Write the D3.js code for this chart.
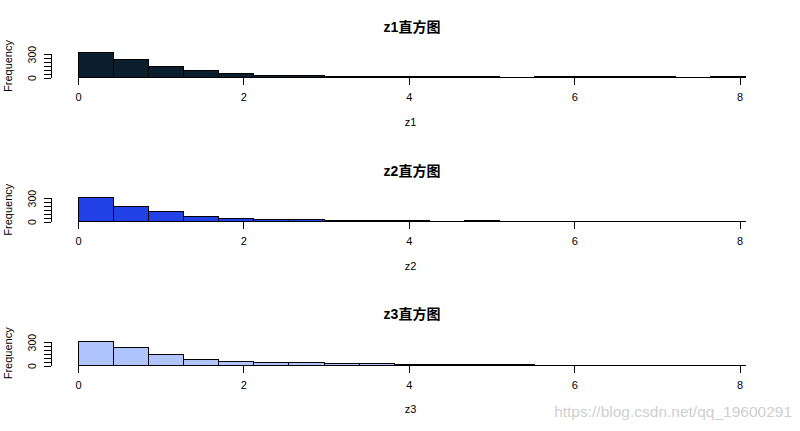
<!DOCTYPE html>
<html><head><meta charset="utf-8">
<script src="https://cdn.jsdelivr.net/npm/d3@7"></script>
<style>body{margin:0;background:#fff}svg{display:block}</style>
</head><body>
<script>
// ---- data ----
const breaks = [0, 0.425, 0.85, 1.275, 1.7, 2.125, 2.55, 2.975, 3.4, 3.825, 4.25, 4.675, 5.1, 5.525, 5.95, 6.375, 6.8, 7.225, 7.65, 8.075];
const seriesNames = ["z1", "z2", "z3"];
const titles = ["z1直方图", "z2直方图", "z3直方图"];
const countsZ1 = [320, 235, 141, 89, 51, 27, 27, 18, 12, 12, 12, 12, 0, 12, 12, 12, 12, 0, 12];
const countsZ2 = [312, 198, 133, 68, 43, 32, 32, 14, 13, 13, 0, 12, 0, 0, 0, 0, 0, 0, 0];
const countsZ3 = [312, 235, 145, 81, 55, 44, 34, 26, 26, 14, 14, 14, 14, 0, 0, 0, 0, 0, 0];
const colors = ["#0a1e2e", "#2241e6", "#afc3fd"];
const xTicks = [0, 2, 4, 6, 8];
const yTicks = [0, 50, 100, 150, 200, 250, 300];
const yLabelTicks = [0, 300];
const watermark = "https://blog.csdn.net/qq_19600291";

const allCounts = [countsZ1, countsZ2, countsZ3];
const W = 800, H = 431, panelH = H / 3;
const font = "'Liberation Sans', Arial, 'Noto Sans CJK SC', sans-serif";

const svg = d3.select("body").append("svg").attr("width", W).attr("height", H);

const bmin = breaks[0], bmax = breaks[breaks.length - 1], ext = 0.04 * (bmax - bmin);
const x = d3.scaleLinear().domain([bmin - ext, bmax + ext]).range([51.3, 772.6]);

allCounts.forEach((counts, i) => {
  const off = i * panelH;
  const y0 = Math.floor(off + 77.8) + 0.5;
  const axisY = y0;
  const y = d3.scaleLinear().domain([0, 300]).range([y0, y0 - 23.35]);
  const g = svg.append("g");

  const bins = counts.map((c, j) => ({x0: breaks[j], x1: breaks[j + 1], c}));
  g.selectAll("path.bar").data(bins).join("path").attr("class", "bar")
    .attr("d", d => {
      const xa = x(d.x0), xb = x(d.x1), yt = y(d.c), yb = y(0);
      return d.c > 0 ? `M${xa},${yb}V${yt}H${xb}V${yb}Z` : `M${xa},${yb}H${xb}`;
    })
    .attr("fill", colors[i]).attr("stroke", "#000").attr("stroke-width", 1)
    .attr("shape-rendering", "crispEdges");

  // x axis
  const xa = g.append("g").attr("transform", `translate(0,${axisY})`)
    .call(d3.axisBottom(x).tickValues(xTicks).tickSize(7).tickSizeOuter(0).tickFormat(d3.format("d")));
  xa.select(".domain").attr("d", `M${x(xTicks[0])},0H${x(xTicks[xTicks.length-1])}`);
  xa.selectAll("path,line").attr("stroke", "#000").attr("shape-rendering", "crispEdges");
  xa.selectAll("text").attr("y", 23).attr("dy", 0).attr("font-size", 11).attr("font-family", font).attr("fill", "#000");

  // y axis
  const ya = g.append("g").attr("transform", `translate(${x.range()[0]},0)`)
    .call(d3.axisLeft(y).tickValues(yTicks).tickSize(7).tickSizeOuter(0)
      .tickFormat(d => yLabelTicks.includes(d) ? String(d) : ""));
  ya.select(".domain").attr("d", `M0,${y(yTicks[0])}V${y(yTicks[yTicks.length-1])}`);
  ya.selectAll("path,line").attr("stroke", "#000").attr("shape-rendering", "crispEdges");
  ya.selectAll(".tick text")
    .attr("x", null).attr("dy", null)
    .attr("transform", "translate(-15,0) rotate(-90)")
    .attr("text-anchor", "middle").attr("y", 0)
    .attr("font-size", 10.5).attr("font-family", font).attr("fill", "#000");

  // labels
  g.append("text").attr("x", 412).attr("y", off + 32).attr("text-anchor", "middle")
    .attr("font-size", 14).attr("font-weight", "bold").attr("font-family", font).text(titles[i]);
  g.append("text").attr("x", 410.5).attr("y", off + 126).attr("text-anchor", "middle")
    .attr("font-size", 11).attr("font-family", font).text(seriesNames[i]);
  g.append("text").attr("transform", `translate(12,${off + 66}) rotate(-90)`).attr("text-anchor", "middle")
    .attr("font-size", 11).attr("font-family", font).text("Frequency");
});

svg.append("text").attr("x", 792).attr("y", 417).attr("text-anchor", "end")
  .attr("font-size", 15.5).attr("font-family", font).attr("fill", "#cfcfcf").text(watermark);
</script>
</body></html>
